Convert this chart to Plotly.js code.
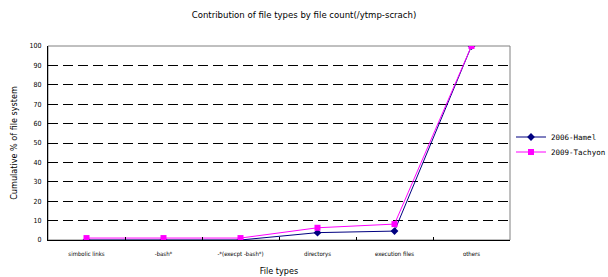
<!DOCTYPE html>
<html>
<head>
<meta charset="utf-8">
<script src="https://cdn.plot.ly/plotly-3.0.1.min.js"></script>
<style>html,body{margin:0;padding:0;background:#fff;}#chart{width:608px;height:277px;}</style>
</head>
<body>
<div id="chart"></div>
<script>
var categories = ["simbolic links", "-bash*", "-*(execpt -bash*)", "directorys", "execution files", "others"];
var hamel = [0, 0, 0, 3.8, 4.6, 100];
var tachyon = [1, 1, 1, 6.3, 8.2, 100];
var yTicks = [0, 10, 20, 30, 40, 50, 60, 70, 80, 90, 100];

var font = "DejaVu Sans Condensed, DejaVu Sans, sans-serif";
var mono = "DejaVu Sans Mono, monospace";

var traces = [
  {x: categories, y: hamel, name: "2006-Hamel", type: "scatter", mode: "lines+markers", legend: "legend",
   line: {color: "#000080", width: 1}, marker: {symbol: "diamond", size: 6, color: "#000080"}},
  {x: categories, y: tachyon, name: "2009-Tachyon", type: "scatter", mode: "lines+markers", legend: "legend2",
   line: {color: "#FF00FF", width: 1}, marker: {symbol: "square", size: 6, color: "#FF00FF"}}
];

function legendAt(yPix) {
  return {xref: "container", yref: "container", x: 511 / 608, xanchor: "left", y: 1 - yPix / 277, yanchor: "middle",
          font: {family: mono, size: 7.5, color: "#000"},
          bgcolor: "rgba(0,0,0,0)", borderwidth: 0, itemwidth: 30, tracegroupgap: 0};
}

var layout = {
  width: 608, height: 277,
  margin: {l: 48, r: 98, t: 46, b: 37},
  paper_bgcolor: "#fff", plot_bgcolor: "#fff",
  font: {family: font, size: 7, color: "#000"},
  title: {text: "Contribution of file types by file count(/ytmp-scrach)", font: {family: font, size: 9.5, color: "#000"},
          x: 0.5, xref: "container", xanchor: "center", y: 1 - 15 / 277, yanchor: "middle"},
  showlegend: true,
  legend: legendAt(137),
  legend2: legendAt(152),
  xaxis: {
    type: "category", range: [-0.5, 5.5], showgrid: false, zeroline: false,
    showline: true, linecolor: "#000", linewidth: 1,
    ticks: "inside", ticklen: 3, tickcolor: "#000", tickson: "boundaries",
    ticklabelstandoff: 8,
    tickfont: {family: font, size: 6, color: "#000"},
    title: {text: "File types", font: {family: font, size: 9, color: "#000"}, standoff: 10}
  },
  yaxis: {
    range: [0, 100], tickvals: yTicks, ticktext: yTicks.map(String),
    showgrid: true, gridcolor: "#000", griddash: "10px,5px", gridwidth: 1, zeroline: false,
    showline: true, linecolor: "#000", linewidth: 1,
    ticks: "inside", ticklen: 7, tickcolor: "#000", ticklabelstandoff: 4,
    tickfont: {family: font, size: 7, color: "#000"},
    title: {text: "Cumulative % of file system", font: {family: font, size: 9, color: "#000"}, standoff: 10}
  },
  shapes: [
    {type: "rect", xref: "paper", yref: "paper", x0: 0, x1: 1, y0: 0, y1: 1,
     line: {color: "#808080", width: 1}, fillcolor: "rgba(0,0,0,0)", layer: "between"}
  ]
};

Plotly.newPlot("chart", traces, layout, {displayModeBar: false, staticPlot: true});
</script>
</body>
</html>
